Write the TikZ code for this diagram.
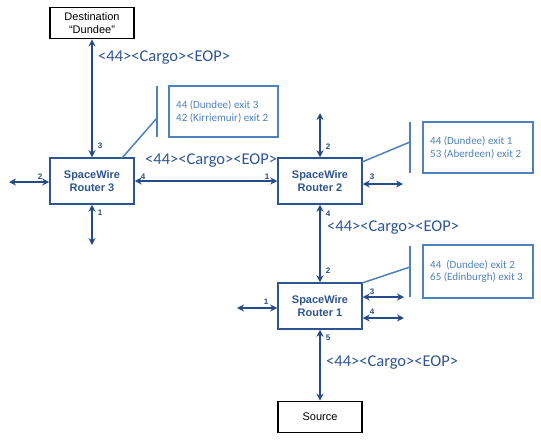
\documentclass[tikz,border=0pt]{standalone}
\usepackage{fontspec}
\newfontfamily\arialf{Liberation Sans}
\newfontfamily\calibrif{Carlito}
\usetikzlibrary{arrows.meta}
\definecolor{arrowblue}{RGB}{38,76,135}
\definecolor{routerblue}{RGB}{44,85,145}
\definecolor{callblue}{RGB}{79,129,189}
\definecolor{cargoblue}{RGB}{46,84,150}
\tikzset{
  router/.style={draw=routerblue,line width=1.5pt,minimum width=84pt,minimum height=46pt,inner sep=0pt,
    font=\arialf\bfseries\fontsize{11}{13}\selectfont,text=routerblue,align=center},
  endbox/.style={draw=black,line width=1.8pt,minimum width=84pt,minimum height=31pt,inner sep=0pt,
    font=\arialf\fontsize{11}{13}\selectfont,align=center},
  link/.style={draw=arrowblue,line width=2pt,{Stealth[length=7pt,width=7pt]}-{Stealth[length=7pt,width=7pt]}},
  port/.style={font=\arialf\bfseries\fontsize{8}{9}\selectfont,text=arrowblue,inner sep=0pt},
  cargo/.style={font=\calibrif\fontsize{16.5}{18}\selectfont,text=cargoblue,anchor=west,inner sep=0pt},
  callbox/.style={draw=callblue,line width=1.3pt},
  callline/.style={draw=callblue,line width=2pt},
  calltext/.style={font=\calibrif\fontsize{11}{12.5}\selectfont,text=callblue,align=left,anchor=west,inner sep=0pt}
}
\begin{document}
\begin{tikzpicture}[x=1pt,y=-1pt]
\useasboundingbox (0,0) rectangle (541,440);
% nodes
\node[endbox] (dest) at (92,23) {Destination\\“Dundee”};
\node[router] (r3) at (92,181) {SpaceWire\\Router 3};
\node[router] (r2) at (320,181) {SpaceWire\\Router 2};
\node[router] (r1) at (320,306) {SpaceWire\\Router 1};
\node[endbox] (src) at (320,417) {Source};
% free ends
\coordinate (r3l) at (9,182);
\coordinate (r3b) at (92,245);
\coordinate (r2t) at (320,113);
\coordinate (r2r) at (403,184);
\coordinate (r1l) at (237,308);
\coordinate (r1a) at (404,297);
\coordinate (r1b) at (404,318);
% links
\draw[link] (dest.south) -- (r3.north);
\draw[link] (r3l) -- (r3l -| r3.west);
\draw[link] (r3.south) -- (r3b);
\draw[link] (r3.east) -- (r2.west);
\draw[link] (r2t) -- (r2.north);
\draw[link] (r2r -| r2.east) -- (r2r);
\draw[link] (r2.south) -- (r1.north);
\draw[link] (r1l) -- (r1l -| r1.west);
\draw[link] (r1a -| r1.east) -- (r1a);
\draw[link] (r1b -| r1.east) -- (r1b);
\draw[link] (r1.south) -- (src.north);
% port labels
\node[port] (p33) at (100,146) {3};
\node[port] (p32) at (40,177) {2};
\node[port] (p34) at (143,177) {4};
\node[port] (p21) at (267,177) {1};
\node[port] (p31) at (100,213) {1};
\node[port] (p22) at (328,147) {2};
\node[port] (p23) at (372,177) {3};
\node[port] (p24) at (328,214) {4};
\node[port] (p12) at (328,271) {2};
\node[port] (p11) at (266,302) {1};
\node[port] (p13) at (372,292) {3};
\node[port] (p14) at (372,312) {4};
\node[port] (p15) at (328,338) {5};
% cargo labels
\node[cargo] (cg1) at (98,58) {<44><Cargo><EOP>};
\node[cargo] (cg2) at (145,161) {<44><Cargo><EOP>};
\node[cargo] (cg3) at (327,228) {<44><Cargo><EOP>};
\node[cargo] (cg4) at (326,363) {<44><Cargo><EOP>};
% callout router 3
\coordinate (c3a) at (157,86);
\coordinate (c3b) at (157,137);
\coordinate (c3m) at (157,118);
\coordinate (c3s) at (122,158);
\draw[callline] (c3a) -- (c3b);
\draw[callline, line width=1.5pt] (c3s) -- (c3m);
\draw[callbox] (169,86) rectangle (278,137);
\node[calltext] (t3) at (176,111.5) {44 (Dundee) exit 3\\42 (Kirriemuir) exit 2};
% callout router 2
\coordinate (c2a) at (410,122);
\coordinate (c2b) at (410,173);
\coordinate (c2m) at (410,142);
\coordinate (c2s) at (362,162);
\draw[callline] (c2a) -- (c2b);
\draw[callline, line width=1.5pt] (c2s) -- (c2m);
\draw[callbox] (423,122) rectangle (533,173);
\node[calltext] (t2) at (430,147.5) {44 (Dundee) exit 1\\53 (Aberdeen) exit 2};
% callout router 1
\coordinate (c1a) at (410,246);
\coordinate (c1b) at (410,297);
\coordinate (c1m) at (410,267);
\coordinate (c1s) at (362,283);
\draw[callline] (c1a) -- (c1b);
\draw[callline, line width=1.5pt] (c1s) -- (c1m);
\draw[callbox] (423,245) rectangle (533,298);
\node[calltext] (t1) at (430,271.5) {44\ \ (Dundee) exit 2\\65 (Edinburgh) exit 3};
\end{tikzpicture}
\end{document}
